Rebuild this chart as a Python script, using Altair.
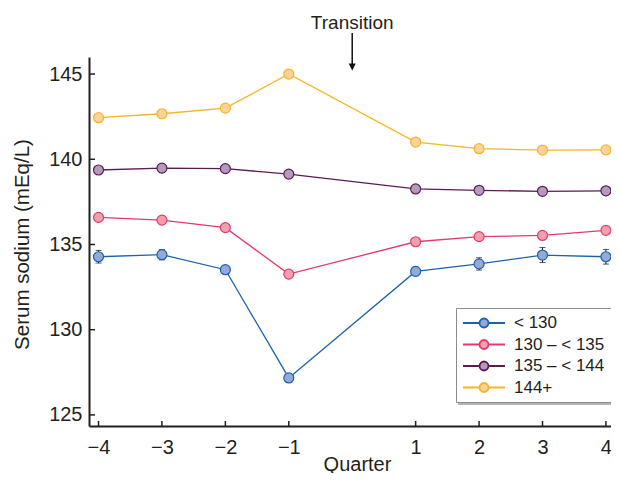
import altair as alt
import pandas as pd

# ---- data ----
quarters = [-4, -3, -2, -1, 1, 2, 3, 4]
groups = ["< 130", "130 – < 135", "135 – < 144", "144+"]
na_lt130 = [134.28, 134.40, 133.52, 127.17, 133.42, 133.86, 134.38, 134.28]
na_130_135 = [136.59, 136.43, 135.99, 133.26, 135.16, 135.46, 135.53, 135.83]
na_135_144 = [139.37, 139.48, 139.45, 139.13, 138.26, 138.18, 138.12, 138.15]
na_144 = [142.44, 142.67, 143.00, 145.00, 141.01, 140.62, 140.54, 140.55]
err_lt130 = [0.37, 0.30, 0.25, 0.25, 0.25, 0.36, 0.44, 0.43]
err_130_135 = [0.12, 0.12, 0.12, 0.12, 0.12, 0.12, 0.12, 0.14]
err_135_144 = [0.06, 0.06, 0.06, 0.06, 0.06, 0.06, 0.06, 0.06]
err_144 = [0.10, 0.10, 0.10, 0.12, 0.08, 0.08, 0.08, 0.08]

x_ticks = [-4, -3, -2, -1, 1, 2, 3, 4]
y_ticks = [125, 130, 135, 140, 145]
transition_x = [0]
transition_label = ["Transition"]

line_colors = ["#1c63ae", "#e33a6d", "#5c1b52", "#f6b426"]
fill_colors = ["#93aad9", "#f3a0ad", "#b39bbd", "#fdd39b"]

series = [na_lt130, na_130_135, na_135_144, na_144]
errors = [err_lt130, err_130_135, err_135_144, err_144]
rows = []
for g, vals, errs in zip(groups, series, errors):
    for q, v, e in zip(quarters, vals, errs):
        rows.append({"quarter": q, "group": g, "value": v, "lo": v - e, "hi": v + e})
df = pd.DataFrame(rows)

W, H = 522, 369
TXT = "#231f20"
FONT = "Liberation Sans"

xscale = alt.Scale(domain=[-4.15, 4.08], nice=False, zero=False)
yscale = alt.Scale(domain=[124.35, 146], nice=False, zero=False)

xaxis = alt.Axis(values=x_ticks, format="d", ticks=False, tickSize=0, grid=False,
                 domainColor=TXT, domainWidth=2, labelFontSize=20, labelPadding=11.5,
                 labelColor=TXT, title="Quarter", titleFontSize=20, titleFontWeight="normal",
                 titleColor=TXT, titleBaseline="alphabetic", titleAlign="center",
                 titleX=268, titleY=44)
yaxis = alt.Axis(values=y_ticks, format="d", ticks=False, tickSize=0, grid=False,
                 domainColor=TXT, domainWidth=2, labelFontSize=20, labelPadding=7,
                 labelColor=TXT, title="Serum sodium (mEq/L)", titleFontSize=20.5,
                 titleFontWeight="normal", titleColor=TXT, titleAngle=270,
                 titleBaseline="alphabetic", titleAlign="center", titleX=-61, titleY=187)

X = alt.X("quarter:Q", scale=xscale, axis=xaxis)
Y = alt.Y("value:Q", scale=yscale, axis=yaxis)

sym_path = ("M-1,0H1.065M2.185,0H4.25M2.185,0A0.56,0.56,0,1,1,1.065,0"
            "A0.56,0.56,0,1,1,2.185,0Z")
legend = alt.Legend(title=None, orient="none", legendX=367, legendY=251, direction="vertical",
                    symbolType=sym_path, symbolSize=256, symbolStrokeWidth=1.8,
                    symbolOpacity=1, labelFontSize=17, labelOffset=34, labelColor=TXT,
                    labelFont=FONT, padding=6, rowPadding=3.5, strokeColor="#8c8c8c",
                    fillColor="white")

stroke_enc = alt.Stroke("group:N", sort=groups,
                        scale=alt.Scale(domain=groups, range=line_colors), legend=legend)
fill_enc = alt.Fill("group:N", sort=groups,
                    scale=alt.Scale(domain=groups, range=fill_colors), legend=legend)

base = alt.Chart(df)

shadow = alt.Chart(pd.DataFrame({"k": [0]})).mark_rect(color="#b5b5b5").encode(
    x=alt.value(369), x2=alt.value(522), y=alt.value(253), y2=alt.value(348))

lines = base.mark_line(strokeWidth=1.3).encode(x=X, y=Y, stroke=stroke_enc,
                                               order="quarter:Q")
err_rule = base.mark_rule(color="#111111", strokeWidth=1).encode(
    x=alt.X("quarter:Q", scale=xscale), y=alt.Y("lo:Q", scale=yscale), y2="hi:Q")
cap_lo = base.mark_tick(color="#111111", thickness=1, size=6, orient="horizontal").encode(
    x=alt.X("quarter:Q", scale=xscale), y=alt.Y("lo:Q", scale=yscale))
cap_hi = base.mark_tick(color="#111111", thickness=1, size=6, orient="horizontal").encode(
    x=alt.X("quarter:Q", scale=xscale), y=alt.Y("hi:Q", scale=yscale))
points = base.mark_point(filled=True, size=100, strokeWidth=1.2, opacity=1).encode(
    x=X, y=Y, stroke=stroke_enc, fill=fill_enc)

ytick_marks = alt.Chart(pd.DataFrame({"t": y_ticks})).mark_rule(
    color=TXT, strokeWidth=1.5).encode(
    y=alt.Y("t:Q", scale=yscale), x=alt.value(0), x2=alt.value(6))
xtick_marks = alt.Chart(pd.DataFrame({"t": x_ticks})).mark_rule(
    color=TXT, strokeWidth=1.5).encode(
    x=alt.X("t:Q", scale=xscale), y=alt.value(H), y2=alt.value(H - 5))

tdf = pd.DataFrame({"x": transition_x, "label": transition_label})
t_text = alt.Chart(tdf).mark_text(fontSize=19, font=FONT, color=TXT,
                                  baseline="alphabetic", align="center").encode(
    x=alt.X("x:Q", scale=xscale), y=alt.value(-28), text="label:N")
t_rule = alt.Chart(tdf).mark_rule(color="#111111", strokeWidth=1.5).encode(
    x=alt.X("x:Q", scale=xscale), y=alt.value(-24), y2=alt.value(7))
t_head = alt.Chart(tdf).mark_point(shape="M-1,-1L1,-1L0,1Z", filled=True, size=49,
                                   color="#111111", opacity=1).encode(
    x=alt.X("x:Q", scale=xscale), y=alt.value(10))

chart = alt.layer(
    shadow, lines, err_rule, cap_lo, cap_hi, points, ytick_marks, xtick_marks,
    t_text, t_rule, t_head
).properties(
    width=W, height=H,
    autosize=alt.AutoSizeParams(type="none"),
    padding={"left": 81, "top": 49, "right": 0, "bottom": 47},
).configure_view(stroke=None).configure_axis(
    labelFont=FONT, titleFont=FONT
).configure_text(font=FONT)

chart.save("out.html", embed_options={"renderer": "svg", "actions": False})
